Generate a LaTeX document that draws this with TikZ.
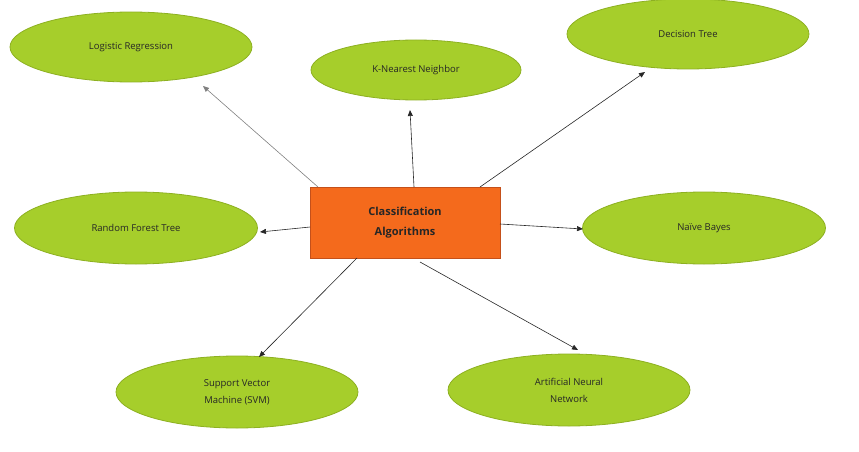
\documentclass[tikz,border=0pt]{standalone}
\usepackage{fontspec}
\setmainfont{Open Sans}
\usetikzlibrary{shapes.geometric,arrows.meta}
\definecolor{lf}{HTML}{A6CE2B}
\definecolor{lb}{HTML}{8DB021}
\definecolor{of}{HTML}{F46A1C}
\definecolor{ob}{HTML}{C4501A}
\begin{document}
\begin{tikzpicture}[x=1pt,y=-1pt,
 ell/.style={ellipse,draw=lb,fill=lf,line width=0.8pt,inner sep=0pt,font=\fontsize{9.5}{17}\selectfont,text=black!85,align=center},
 arr/.style={-{Triangle[length=6pt,width=5pt]},draw=black!85,line width=0.6pt}]
\useasboundingbox (0,0) rectangle (859,452);
\node[ell,minimum width=242,minimum height=70] (lr) at (131,47) {Logistic Regression};
\node[ell,minimum width=210,minimum height=60] (kn) at (416,70) {K-Nearest Neighbor};
\node[ell,minimum width=242,minimum height=70] (dt) at (688,34) {Decision Tree};
\node[ell,minimum width=243,minimum height=72] (rf) at (136,228) {Random Forest Tree};
\node[ell,minimum width=243,minimum height=72] (nb) at (704,228) {Naïve Bayes};
\node[ell,minimum width=242,minimum height=72] (svm) at (237,392) {Support Vector\\Machine (SVM)};
\node[ell,minimum width=242,minimum height=72] (ann) at (569,390) {Artificial Neural\\Network};
\node[draw=ob,fill=of,line width=0.6pt,minimum width=190,minimum height=71,align=center,
 font=\fontsize{11}{20}\bfseries\selectfont,text=black!85] (c) at (405,222.5) {Classification\\Algorithms};
\coordinate (a1) at (318,187); \coordinate (b1) at (203,86);
\coordinate (a2) at (414,187); \coordinate (b2) at (410,110);
\coordinate (a3) at (480,187); \coordinate (b3) at (645,72);
\coordinate (a4) at (310,227); \coordinate (b4) at (260,232);
\coordinate (a5) at (500,224); \coordinate (b5) at (583,229);
\coordinate (a6) at (357,258); \coordinate (b6) at (259,357);
\coordinate (a7) at (420,262); \coordinate (b7) at (578,350);
\draw[arr,draw=black!50] (a1) -- (b1);
\foreach \i in {2,...,7} \draw[arr] (a\i) -- (b\i);
\end{tikzpicture}
\end{document}
